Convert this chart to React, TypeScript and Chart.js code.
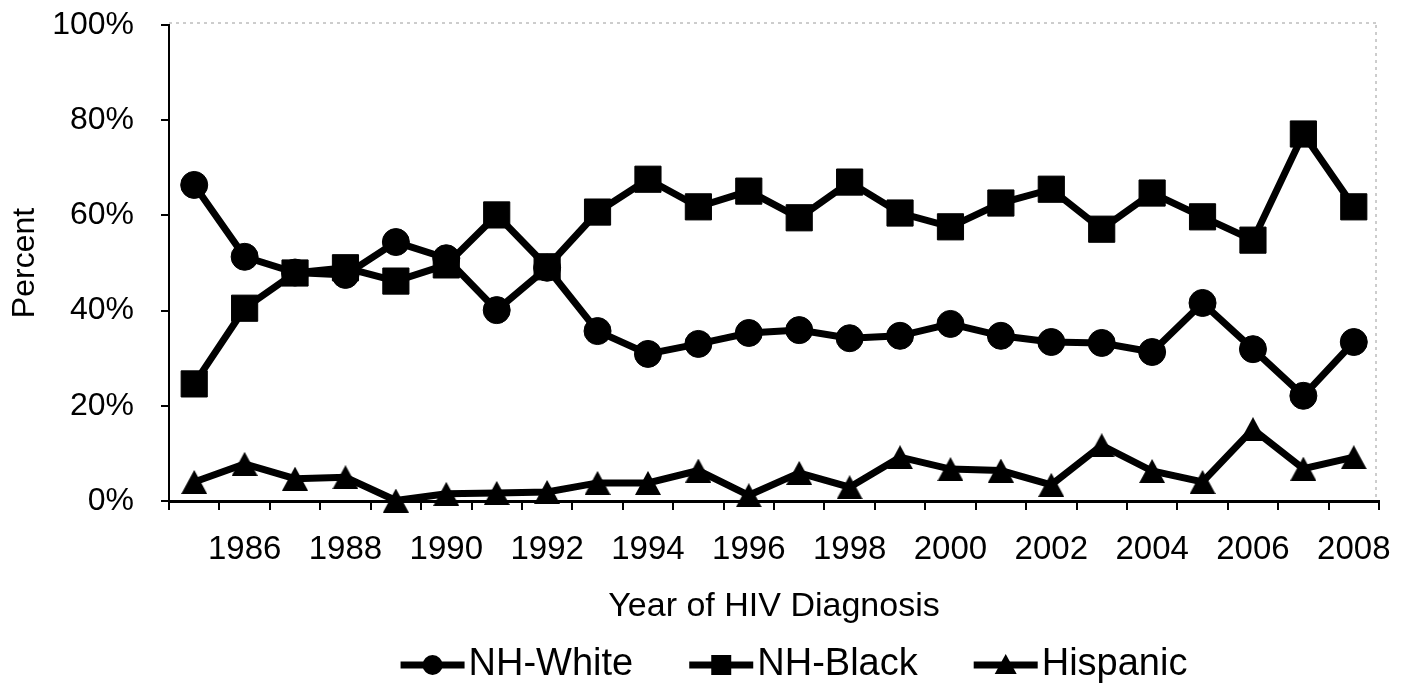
import { useEffect, useRef } from "react";
import { Chart, registerables } from "chart.js";

Chart.register(...registerables);

const years = [
  "1985", "1986", "1987", "1988", "1989", "1990", "1991", "1992", "1993", "1994", "1995", "1996",
  "1997", "1998", "1999", "2000", "2001", "2002", "2003", "2004", "2005", "2006", "2007", "2008",
];
const nhWhite = [66.4, 51.3, 48.0, 47.5, 54.4, 51.0, 40.1, 49.0, 35.7, 30.9, 33.0, 35.3, 35.9, 34.2, 34.7, 37.2, 34.7, 33.4, 33.2, 31.3, 41.6, 31.9, 22.1, 33.4];
const nhBlack = [24.6, 40.5, 47.9, 49.0, 46.2, 49.6, 60.1, 49.2, 60.7, 67.6, 61.8, 65.1, 59.5, 67.0, 60.5, 57.6, 62.6, 65.5, 57.1, 64.7, 59.7, 54.8, 77.1, 61.8];
const hispanic = [4.0, 7.8, 4.7, 5.0, 0.1, 1.5, 1.7, 1.9, 3.8, 3.8, 6.4, 1.2, 5.9, 2.9, 9.2, 6.7, 6.4, 3.4, 11.7, 6.3, 4.0, 15.1, 6.8, 9.2];
const seriesNames = ["NH-White", "NH-Black", "Hispanic"];
const yTickValues = [0, 20, 40, 60, 80, 100];
const xTitle = "Year of HIV Diagnosis";
const yTitle = "Percent";

const FONT = "'Liberation Sans', Arial, Helvetica, sans-serif";

function triangleCanvas(w: number, h: number): HTMLCanvasElement {
  const c = document.createElement("canvas");
  c.width = w;
  c.height = h;
  const ctx = c.getContext("2d")!;
  ctx.fillStyle = "#000";
  ctx.beginPath();
  ctx.moveTo(w / 2, 0);
  ctx.lineTo(w, h);
  ctx.lineTo(0, h);
  ctx.closePath();
  ctx.fill();
  return c;
}

function drawMarker(ctx: CanvasRenderingContext2D, kind: string, x: number, y: number) {
  ctx.fillStyle = "#000";
  ctx.beginPath();
  if (kind === "circle") {
    ctx.arc(x, y, 10, 0, Math.PI * 2);
  } else if (kind === "rect") {
    ctx.rect(x - 10, y - 10, 20, 20);
  } else {
    ctx.moveTo(x, y - 11);
    ctx.lineTo(x + 11, y + 9);
    ctx.lineTo(x - 11, y + 9);
    ctx.closePath();
  }
  ctx.fill();
}

const framePlugin = {
  id: "dottedFrame",
  beforeDatasetsDraw(chart: any) {
    const { ctx, chartArea } = chart;
    ctx.save();
    ctx.strokeStyle = "#9a9a9a";
    ctx.lineWidth = 1;
    ctx.setLineDash([3, 4]);
    ctx.beginPath();
    ctx.moveTo(chartArea.left, chartArea.top - 2);
    ctx.lineTo(chartArea.right, chartArea.top - 2);
    ctx.moveTo(chartArea.right - 3, chartArea.top);
    ctx.lineTo(chartArea.right - 3, chartArea.bottom);
    ctx.stroke();
    ctx.restore();
  },
};

const legendPlugin = {
  id: "lineMarkerLegend",
  afterDraw(chart: any) {
    const { ctx } = chart;
    const kinds = ["circle", "rect", "triangle"];
    const fontSize = 38;
    const lineLen = 64;
    const textGap = 4;
    const itemGap = 56;
    const cy = 665;
    ctx.save();
    ctx.font = `${fontSize}px ${FONT}`;
    const widths = seriesNames.map((n) => ctx.measureText(n).width);
    const total = widths.reduce((a, w) => a + lineLen + textGap + w, 0) + itemGap * (seriesNames.length - 1);
    let x = 794 - total / 2;
    seriesNames.forEach((name, i) => {
      ctx.strokeStyle = "#000";
      ctx.lineWidth = 7;
      ctx.beginPath();
      ctx.moveTo(x, cy);
      ctx.lineTo(x + lineLen, cy);
      ctx.stroke();
      drawMarker(ctx, kinds[i], x + lineLen / 2, cy);
      ctx.fillStyle = "#000";
      ctx.textAlign = "left";
      ctx.textBaseline = "middle";
      ctx.fillText(name, x + lineLen + textGap, cy);
      x += lineLen + textGap + widths[i] + itemGap;
    });
    ctx.restore();
  },
};

export default function App() {
  const ref = useRef<HTMLCanvasElement | null>(null);

  useEffect(() => {
    if (!ref.current) return;
    const tri = triangleCanvas(26, 24);
    const common = {
      borderColor: "#000",
      backgroundColor: "#000",
      pointBackgroundColor: "#000",
      pointBorderColor: "#000",
      borderWidth: 7,
      pointBorderWidth: 1,
      tension: 0,
      clip: false as any,
    };
    const chart = new Chart(ref.current, {
      type: "line",
      data: {
        labels: years,
        datasets: [
          { ...common, label: seriesNames[0], data: nhWhite, pointStyle: "circle", pointRadius: 13.5 },
          { ...common, label: seriesNames[1], data: nhBlack, pointStyle: "rect", pointRadius: 18.5 },
          { ...common, label: seriesNames[2], data: hispanic, pointStyle: tri as any, pointRadius: 13 },
        ],
      },
      options: {
        animation: false,
        responsive: false,
        events: [],
        layout: { autoPadding: false, padding: { top: 25, right: 29, left: 0, bottom: 0 } },
        plugins: { legend: { display: false }, tooltip: { enabled: false } },
        scales: {
          x: {
            type: "category",
            offset: true,
            grid: { offset: true, drawOnChartArea: false, drawTicks: true, tickLength: 9, color: "#000", lineWidth: 2 },
            border: { color: "#000", width: 3 },
            ticks: {
              autoSkip: false,
              maxRotation: 0,
              minRotation: 0,
              padding: 20,
              color: "#000",
              font: { family: FONT, size: 33 },
              callback: (_v: any, i: number) => (Number(years[i]) % 2 === 0 ? years[i] : ""),
            },
            title: {
              display: true,
              text: xTitle,
              color: "#000",
              font: { family: FONT, size: 34 },
              padding: { top: 0, bottom: 56 },
            },
            afterFit: (s: any) => {
              s.height = 182;
              s.paddingLeft = 0;
              s.paddingRight = 0;
            },
          },
          y: {
            min: 0,
            max: 100,
            afterBuildTicks: (s: any) => {
              s.ticks = yTickValues.map((v) => ({ value: v }));
            },
            ticks: {
              padding: 27,
              color: "#000",
              font: { family: FONT, size: 32 },
              callback: (v: any) => `${v}%`,
            },
            grid: { drawOnChartArea: false, tickLength: 8, color: "#000", lineWidth: 2 },
            border: { color: "#000", width: 2 },
            title: {
              display: true,
              text: yTitle,
              color: "#000",
              font: { family: FONT, size: 32 },
              padding: { top: 6, bottom: 0 },
            },
            afterFit: (s: any) => {
              s.width = 169;
              s.paddingTop = 0;
              s.paddingBottom = 0;
            },
          },
        },
      },
      plugins: [framePlugin, legendPlugin],
    });
    return () => chart.destroy();
  }, []);

  return (
    <div style={{ position: "fixed", left: 0, top: 0, width: 1408, height: 683, background: "#fff" }}>
      <canvas ref={ref} width={1408} height={683} style={{ display: "block" }} />
    </div>
  );
}
